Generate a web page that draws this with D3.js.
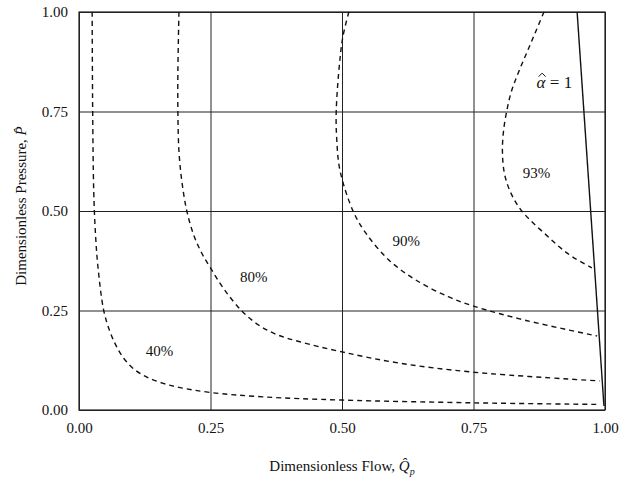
<!DOCTYPE html>
<html>
<head>
<meta charset="utf-8">
<script src="https://cdn.jsdelivr.net/npm/d3@7"></script>
<style>
  body { margin: 0; background: #fff; }
  svg text { font-family: "Liberation Serif", "Times New Roman", serif; fill: #111; }
  .axis .domain { display: none; }
  .axis line { stroke: #222; stroke-width: 1; }
</style>
</head>
<body>
<div id="chart"></div>
<script>
// tick values for both axes
const xTicks = [0, 0.25, 0.5, 0.75, 1];
const yTicks = [0, 0.25, 0.5, 0.75, 1];

// efficiency contours [Qp, P]
const eff40 = [[0.025, 1], [0.026, 0.75], [0.028, 0.55], [0.031, 0.45], [0.036, 0.36], [0.047, 0.25],
  [0.058, 0.2], [0.07, 0.163], [0.085, 0.13], [0.105, 0.102], [0.13, 0.082], [0.16, 0.067],
  [0.19, 0.057], [0.25, 0.044], [0.35, 0.033], [0.5, 0.025], [0.75, 0.018], [0.99, 0.014]];
const eff80 = [[0.19, 1], [0.188, 0.85], [0.188, 0.75], [0.19, 0.65], [0.196, 0.57], [0.205, 0.5],
  [0.218, 0.44], [0.233, 0.395], [0.25, 0.357], [0.275, 0.305], [0.31, 0.248], [0.342, 0.213],
  [0.375, 0.19], [0.418, 0.172], [0.5, 0.146], [0.608, 0.118], [0.75, 0.095], [0.99, 0.073]];
const eff90 = [[0.513, 1], [0.502, 0.94], [0.496, 0.88], [0.489, 0.75], [0.49, 0.68], [0.496, 0.603],
  [0.521, 0.5], [0.545, 0.445], [0.589, 0.377], [0.64, 0.327], [0.703, 0.284], [0.75, 0.261],
  [0.85, 0.225], [0.985, 0.186]];
const eff93 = [[0.884, 1], [0.868, 0.95], [0.852, 0.9], [0.836, 0.85], [0.822, 0.8], [0.813, 0.75],
  [0.807, 0.7], [0.805, 0.65], [0.808, 0.6], [0.815, 0.565], [0.826, 0.532], [0.84, 0.503],
  [0.861, 0.473], [0.888, 0.44], [0.913, 0.41], [0.938, 0.385], [0.975, 0.357]];
// alpha = 1 boundary
const alphaLine = [[0.947, 1], [0.998, 0.01]];

// label anchors [Qp, P, text]
const curveLabels = [[0.153, 0.148, "40%"], [0.332, 0.334, "80%"], [0.622, 0.425, "90%"], [0.87, 0.595, "93%"]];

const width = 626, height = 489;
const margin = { top: 12, right: 21, bottom: 79, left: 79 };
const w = width - margin.left - margin.right;
const h = height - margin.top - margin.bottom;

const svg = d3.select('#chart').append('svg')
  .attr('width', width)
  .attr('height', height);

const g = svg.append('g')
  .attr('transform', `translate(${margin.left},${margin.top})`);

const x = d3.scaleLinear().domain([0, 1]).range([0, w]);
const y = d3.scaleLinear().domain([0, 1]).range([h, 0]);

// grid lines come from the axes
g.append('g')
  .attr('class', 'axis x-axis')
  .attr('transform', `translate(0,${h})`)
  .call(d3.axisBottom(x).tickValues(xTicks).tickFormat(d3.format('.2f'))
    .tickSizeInner(-h).tickSizeOuter(0).tickPadding(12))
  .selectAll('text').attr('font-size', 15);

g.append('g')
  .attr('class', 'axis y-axis')
  .call(d3.axisLeft(y).tickValues(yTicks).tickFormat(d3.format('.2f'))
    .tickSizeInner(-w).tickSizeOuter(0).tickPadding(11))
  .selectAll('text').attr('font-size', 15);

g.append('rect')
  .attr('width', w).attr('height', h)
  .attr('fill', 'none').attr('stroke', '#222').attr('stroke-width', 1.2);

const line = d3.line()
  .x(d => x(d[0]))
  .y(d => y(d[1]))
  .curve(d3.curveCatmullRom.alpha(0.5));

[eff40, eff80, eff90, eff93].forEach(s => {
  g.append('path')
    .datum(s)
    .attr('d', line)
    .attr('fill', 'none')
    .attr('stroke', '#111')
    .attr('stroke-width', 1.4)
    .attr('stroke-dasharray', '5,4');
});

g.append('path')
  .datum(alphaLine)
  .attr('d', d3.line().x(d => x(d[0])).y(d => y(d[1])))
  .attr('fill', 'none')
  .attr('stroke', '#111')
  .attr('stroke-width', 1.4);

g.selectAll('.clabel')
  .data(curveLabels)
  .enter().append('text')
  .attr('class', 'clabel')
  .attr('x', d => x(d[0]))
  .attr('y', d => y(d[1]))
  .attr('dy', '0.35em')
  .attr('text-anchor', 'middle')
  .attr('font-size', 15)
  .text(d => d[2]);

// alpha-hat = 1 label, the hat is a small stroke above the alpha
const ax = x(0.87), ay = y(0.825) + 6;
g.append('text')
  .attr('x', ax).attr('y', ay)
  .attr('font-size', 17)
  .call(t => {
    t.append('tspan').attr('font-style', 'italic').text('\u03b1');
    t.append('tspan').text(' = 1');
  });
g.append('path')
  .attr('d', `M${ax + 2},${ay - 11} L${ax + 5.5},${ay - 14.5} L${ax + 9},${ay - 11}`)
  .attr('fill', 'none')
  .attr('stroke', '#111')
  .attr('stroke-width', 1);

// axis titles
const xTitle = svg.append('text')
  .attr('x', margin.left + w / 2)
  .attr('y', 471)
  .attr('text-anchor', 'middle')
  .attr('font-size', 15);
xTitle.append('tspan').text('Dimensionless Flow,  ');
xTitle.append('tspan').attr('font-style', 'italic').text('Q\u0302');
xTitle.append('tspan').attr('font-style', 'italic').attr('font-size', 10).attr('dy', 4).text('p');

const yTitle = svg.append('text')
  .attr('transform', `translate(26,${margin.top + h / 2 - 5}) rotate(-90)`)
  .attr('text-anchor', 'middle')
  .attr('font-size', 15);
yTitle.append('tspan').text('Dimensionless Pressure,  ');
yTitle.append('tspan').attr('font-style', 'italic').text('P\u0302');
</script>
</body>
</html>
